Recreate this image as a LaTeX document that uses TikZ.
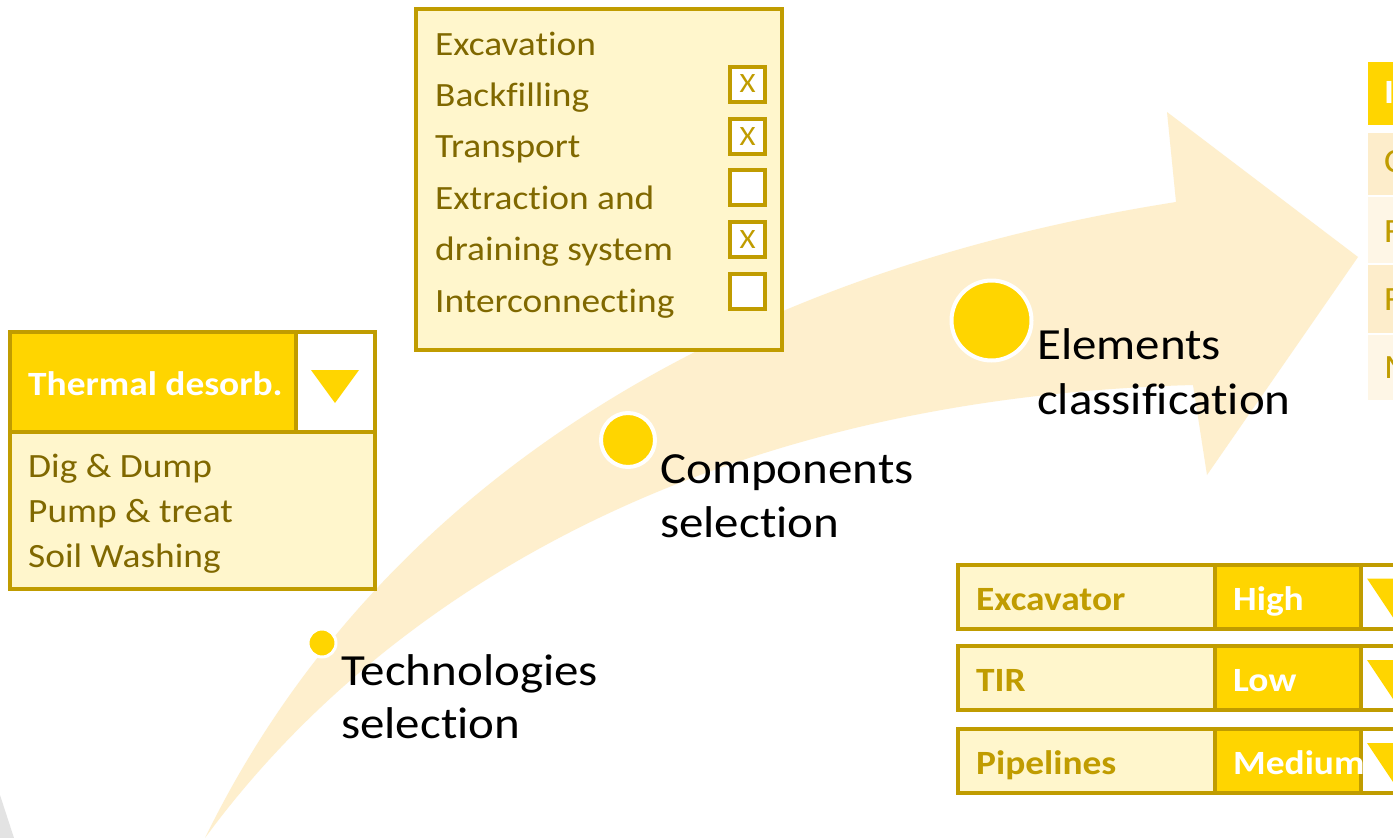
\documentclass[tikz,border=0pt]{standalone}
\usepackage{fontspec}
\setmainfont{Carlito}[FakeStretch=1.10, Ligatures=NoCommon]
\definecolor{bandc}{RGB}{254,239,205}
\definecolor{goldc}{RGB}{192,156,0}
\definecolor{yelc}{RGB}{255,213,0}
\definecolor{lightc}{RGB}{255,246,204}
\definecolor{olivec}{RGB}{128,104,0}
\definecolor{rowa}{RGB}{253,237,203}
\definecolor{rowb}{RGB}{254,246,230}
\tikzset{
  cell/.style={draw=goldc, line width=4pt, anchor=north west, inner sep=0pt, outer sep=0pt},
  lbl/.style={anchor=base west, inner sep=0pt, font=\fontsize{44.5}{53}\selectfont, text=black},
  item/.style={anchor=base west, inner sep=0pt, font=\fontsize{34}{40}\selectfont, text=olivec},
  bolditem/.style={anchor=base west, inner sep=0pt, font=\fontsize{34}{40}\selectfont\bfseries},
  chk/.style={draw=goldc, line width=4pt, fill=white, minimum size=35pt, inner sep=0pt, text=goldc, font=\fontsize{28}{28}\selectfont},
  dot/.style={circle, fill=yelc, draw=white, inner sep=0pt},
  tri/.style={fill=yelc},
}
\begin{document}
\begin{tikzpicture}[x=1pt,y=-1pt]
\useasboundingbox (0,0) rectangle (1393,838);
\clip (0,0) rectangle (1393,838);
\fill[white] (0,0) rectangle (1393,838);
% faint grey corner
\fill[gray!22] (0,795) -- (14,838) -- (0,838) -- cycle;
% curved arrow band
\fill[bandc] (205,838) .. controls (360,520) and (680,280) .. (1176,202)
  -- (1167,112) -- (1358,257) -- (1207,475) -- (1193,385)
  .. controls (650,400) and (350,640) .. (205,838) -- cycle;

% ---- technologies box
\node[cell, fill=yelc, minimum width=286pt, minimum height=100pt] (thead) at (10,332) {};
\node[cell, fill=white, minimum width=79pt, minimum height=100pt] (tdrop) at (296,332) {};
\node[cell, fill=lightc, minimum width=365pt, minimum height=157pt] (tbody) at (10,432) {};
\fill[tri] (311,370) -- (359,370) -- (335,403) -- cycle;
\node[bolditem, text=white] (therm) at (28,395) {Thermal desorb.};
\node[item] (dig) at (28,477) {Dig \& Dump};
\node[item] (pump) at (28,522) {Pump \& treat};
\node[item] (soil) at (28,567) {Soil Washing};

% ---- components box
\node[cell, fill=lightc, minimum width=366pt, minimum height=341pt] (cbox) at (416,9) {};
\node[item] (c1) at (435,55) {Excavation};
\node[item] (c2) at (435,106.4) {Backfilling};
\node[item] (c3) at (435,157.8) {Transport};
\node[item] (c4) at (435,209.2) {Extraction and};
\node[item] (c5) at (435,260.6) {draining system};
\node[item] (c6) at (435,312) {Interconnecting};
\node[chk] (k1) at (747.5,84) {X};
\node[chk] (k2) at (747.5,136.5) {X};
\node[chk] (k3) at (747.5,187.5) {};
\node[chk] (k4) at (747.5,239.5) {X};
\node[chk] (k5) at (747.5,291.5) {};

% ---- dots and labels
\node[dot, minimum size=28pt, line width=3pt] (d1) at (322,643) {};
\node[dot, minimum size=54pt, line width=4pt] (d2) at (628,440) {};
\node[dot, minimum size=80pt, line width=4pt] (d3) at (991.5,320.5) {};
\node[lbl] (l1a) at (341,685) {Technologies};
\node[lbl] (l1b) at (341,738) {selection};
\node[lbl] (l2a) at (660,483) {Components};
\node[lbl] (l2b) at (660,537) {selection};
\node[lbl] (l3a) at (1037,359) {Elements};
\node[lbl] (l3b) at (1037,414) {classification};

% ---- top right table (cut by frame)
\fill[yelc] (1368,62) rectangle (1400,125);
\fill[rowa] (1368,133) rectangle (1400,195);
\fill[rowb] (1368,197) rectangle (1400,263);
\fill[rowa] (1368,265) rectangle (1400,333);
\fill[rowb] (1368,335) rectangle (1400,400);
\node[bolditem, text=white] (th) at (1384,103) {I};
\node[item, text=goldc] (tr1) at (1384,172) {C};
\node[item, text=goldc] (tr2) at (1384,242) {F};
\node[item, text=goldc] (tr3) at (1384,310) {F};
\node[item, text=goldc] (tr4) at (1384,378) {M};

% ---- bottom right rating rows
\foreach \n/\t/\lab/\val in {1/564.5/Excavator/High, 2/646/TIR/Low, 3/729/Pipelines/Medium}{
  \node[cell, fill=lightc, minimum width=256.5pt, minimum height=64pt] (ra\n) at (958,\t) {};
  \node[cell, fill=white, minimum width=50pt, minimum height=64pt] (rc\n) at (1361,\t) {};
  \node[cell, fill=yelc, minimum width=146.5pt, minimum height=64pt] (rb\n) at (1214.5,\t) {};
  \fill[tri] (1367,\t+14) -- (1419,\t+14) -- (1393,\t+53) -- cycle;
  \node[bolditem, text=goldc] (rl\n) at (976,\t+45.5) {\lab};
  \node[bolditem, text=white] (rv\n) at (1233,\t+45.5) {\val};
}
\end{tikzpicture}
\end{document}
